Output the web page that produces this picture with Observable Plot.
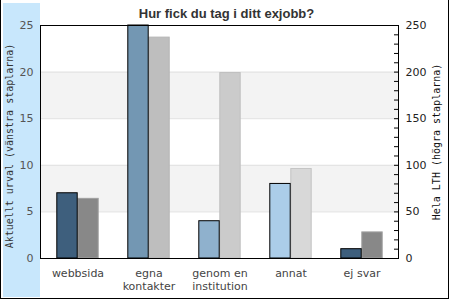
<!DOCTYPE html>
<html>
<head>
<meta charset="utf-8">
<script src="https://cdn.jsdelivr.net/npm/d3@7"></script>
<script src="https://cdn.jsdelivr.net/npm/@observablehq/plot@0.6"></script>
<style>
  html, body { margin: 0; padding: 0; background: #fff; }
  #wrap { position: relative; width: 450px; height: 300px; overflow: hidden; background: #fff; }
  .edge { position: absolute; background: #000; }
  #strip { position: absolute; left: 3px; top: 3px; width: 37px; height: 294px; background: #c8e7fc; }
  #chart { position: absolute; left: 0; top: 0; }
</style>
</head>
<body>
<div id="wrap">
  <div id="strip"></div>
  <div class="edge" style="left:0;top:0;width:1px;height:299px"></div>
  <div class="edge" style="left:448px;top:0;width:1px;height:299px"></div>
  <div class="edge" style="left:0;top:298px;width:449px;height:1px"></div>
  <div id="chart"></div>
</div>
<script>
// ---- data ----
const title = "Hur fick du tag i ditt exjobb?";
const categories = ["webbsida", "egna kontakter", "genom en institution", "annat", "ej svar"];
const tickLabels = ["webbsida", "egna\nkontakter", "genom en\ninstitution", "annat", "ej svar"];
const urval = [7, 25, 4, 8, 1];          // left bars (left axis, 0–25)
const helaLTH = [64, 237, 199, 96, 28];  // right bars (right axis, 0–250)
const leftTicks = [0, 5, 10, 15, 20, 25];
const rightTicks = [0, 50, 100, 150, 200, 250];
const rightMinorTicks = [0, 10, 20, 30, 40, 50, 60, 70, 80, 90, 100, 110, 120, 130, 140, 150,
  160, 170, 180, 190, 200, 210, 220, 230, 240, 250];
const leftTitle = "Aktuellt urval (vänstra staplarna)";
const rightTitle = "Hela LTH (högra staplarna)";

// ---- styles ----
const urvalFill = ["#3e5f7d", "#7397b3", "#8fb1cd", "#abcde9", "#3e5f7d"];
const lthFill = ["#888888", "#bebebe", "#cbcbcb", "#d8d8d8", "#888888"];
const lthStroke = ["#a0a0a0", "#b4b4b4", "#c0c0c0", "#c4c4c4", "#a0a0a0"];

const ratio = 10; // right axis = left axis × 10
const leftBars = categories.map((c, i) => ({cat: c, v: urval[i], fill: urvalFill[i]}));
const rightBars = categories.map((c, i) => ({cat: c, v: helaLTH[i], fill: lthFill[i], stroke: lthStroke[i]}));
const labelOf = new Map(categories.map((c, i) => [c, tickLabels[i]]));

const W = 450, mL = 40, mR = 52;
const bw = (W - mL - mR) / categories.length;
const half = bw / 2;
const barW = 21;

const chart = Plot.plot({
  width: W,
  height: 300,
  marginLeft: mL,
  marginRight: mR,
  marginTop: 25,
  marginBottom: 42,
  style: {background: "transparent", fontFamily: "'DejaVu Sans', sans-serif", fontSize: "11px"},
  x: {domain: categories, padding: 0},
  y: {domain: [0, 25]},
  marks: [
    Plot.rectY([{a: 5, b: 10}, {a: 15, b: 20}], {y1: "a", y2: "b", fill: "#f3f3f3"}),
    Plot.ruleY([5, 10, 15, 20], {stroke: "#e0e0e0"}),
    Plot.barY(rightBars, {x: "cat", y: d => d.v / ratio, fill: "fill", stroke: "stroke",
      insetLeft: half, insetRight: half - barW}),
    Plot.barY(leftBars, {x: "cat", y: "v", fill: "fill", stroke: "#000",
      insetLeft: half - barW, insetRight: half}),
    Plot.frame({stroke: "#000"}),
    Plot.axisY({anchor: "left", ticks: leftTicks, tickSize: 0, tickPadding: 7, label: null,
      fill: "#555", fontSize: 11}),
    // inward minor ticks on the right axis (a left-style tick shifted to the right edge)
    Plot.axisY({anchor: "left", ticks: rightMinorTicks.map(t => t / ratio), tickSize: 4,
      dx: W - mL - mR, tickFormat: () => "", label: null, stroke: "#000"}),
    Plot.axisY({anchor: "right", ticks: rightTicks.map(t => t / ratio), tickSize: 0, tickPadding: 7,
      tickFormat: t => String(Math.round(t * ratio)), label: null, fill: "#222", fontSize: 11}),
    Plot.axisX({anchor: "bottom", tickSize: 0, tickPadding: 10, label: null,
      tickFormat: d => labelOf.get(d), fill: "#444", fontSize: 11, lineHeight: 1.15, lineAnchor: "top"}),
    Plot.text([title], {frameAnchor: "top", text: d => d, dx: 7, dy: -8, lineAnchor: "bottom",
      fontFamily: "'Liberation Sans', Arial, sans-serif", fontWeight: "bold", fontSize: 13, fill: "#333"}),
    Plot.text([leftTitle], {frameAnchor: "left", textAnchor: "middle", text: d => d, rotate: -90, dx: -31, dy: 4,
      fontFamily: "'DejaVu Sans Mono', monospace", fontSize: 10, fill: "#333"}),
    Plot.text([rightTitle], {frameAnchor: "right", textAnchor: "middle", text: d => d, rotate: -90, dx: 38.5,
      fontFamily: "'DejaVu Sans Mono', monospace", fontSize: 10, fill: "#111"})
  ]
});
document.getElementById("chart").appendChild(chart);
</script>
</body>
</html>
